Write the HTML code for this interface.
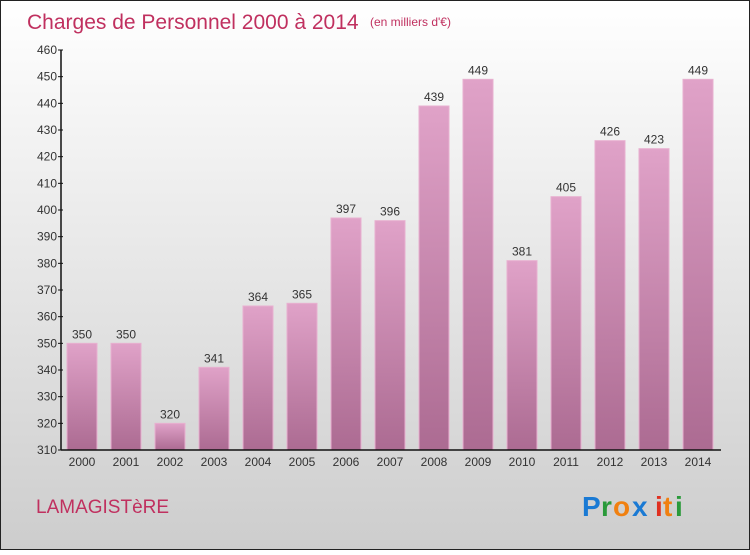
<!DOCTYPE html>
<html><head><meta charset="utf-8"><style>
body{margin:0;}
#c{width:750px;height:550px;position:relative;font-family:"Liberation Sans",sans-serif;}
</style></head><body>
<div id="c">
<svg width="750" height="550" xmlns="http://www.w3.org/2000/svg" id="svg">
<defs>
<linearGradient id="bg" x1="0" y1="0" x2="0" y2="1"><stop offset="0" stop-color="#ffffff"/><stop offset="1" stop-color="#cdcdcd"/></linearGradient>
<linearGradient id="bar" x1="0" y1="0" x2="0" y2="1"><stop offset="0" stop-color="#e0a2c8"/><stop offset="1" stop-color="#ac6b92"/></linearGradient>
</defs>
<rect x="0.5" y="0.5" width="749" height="549" fill="url(#bg)" stroke="#222"/>
<text x="27" y="29" font-size="21" fill="#c0305f">Charges de Personnel 2000 à 2014</text>
<text x="370" y="26" font-size="12" fill="#c0305f">(en milliers d'€)</text>
<g id="bars"></g>
<g id="axes"></g>
<text x="36" y="513" font-size="19" fill="#c0305f">LAMAGISTèRE</text>
<g font-size="28" font-weight="bold">
<text x="582" y="516" fill="#1a7ad4">P</text><text x="601" y="516" fill="#2a9a3a">r</text><text x="613" y="516" fill="#f08010">o</text><text x="632" y="516" fill="#1a7ad4">x</text><text x="655" y="516" fill="#e03020">i</text><text x="663" y="516" fill="#f08010">t</text><text x="675" y="516" fill="#2a9a3a">i</text>
</g>
</svg>
</div>
<script>
const categories=["2000","2001","2002","2003","2004","2005","2006","2007","2008","2009","2010","2011","2012","2013","2014"];
const values=[350,350,320,341,364,365,397,396,439,449,381,405,426,423,449];
const yTicks=[310,320,330,340,350,360,370,380,390,400,410,420,430,440,450,460];
const NS="http://www.w3.org/2000/svg";
const yMin=310,yMax=460,plotTop=50,plotBot=450,plotLeft=61,plotRight=721;
function y(v){return plotBot-(v-yMin)/(yMax-yMin)*(plotBot-plotTop);}
function xc(i){return 82+i*44;}
function mk(tag,attrs,parent){const e=document.createElementNS(NS,tag);for(const k in attrs)e.setAttribute(k,attrs[k]);parent.appendChild(e);return e;}
const bars=document.getElementById('bars'),axes=document.getElementById('axes');
values.forEach((v,i)=>{
  const r=mk('rect',{x:xc(i)-15,y:y(v),width:30,height:plotBot-y(v),fill:'url(#bar)',stroke:'#e8b0d0','stroke-width':1},bars);
  
  
  const t=mk('text',{x:xc(i),y:y(v)-5,'text-anchor':'middle','font-size':12,fill:'#333'},bars);
  t.textContent=v;
  
  
  const xl=mk('text',{x:xc(i),y:plotBot+16,'text-anchor':'middle','font-size':12,fill:'#333'},axes);
  xl.textContent=categories[i];
  
  
});
const ya=mk('line',{x1:plotLeft,y1:plotTop,x2:plotLeft,y2:plotBot,stroke:'#111','stroke-width':1.5},axes);


const xa=mk('line',{x1:plotLeft,y1:plotBot,x2:plotRight,y2:plotBot,stroke:'#111','stroke-width':1.5},axes);


yTicks.forEach(v=>{
  mk('line',{x1:plotLeft-3,y1:y(v),x2:plotLeft+2,y2:y(v),stroke:'#111'},axes);
  const t=mk('text',{x:plotLeft-4,y:y(v)+4,'text-anchor':'end','font-size':12,fill:'#333'},axes);
  t.textContent=v;
  
  
});
</script>
</body></html>
